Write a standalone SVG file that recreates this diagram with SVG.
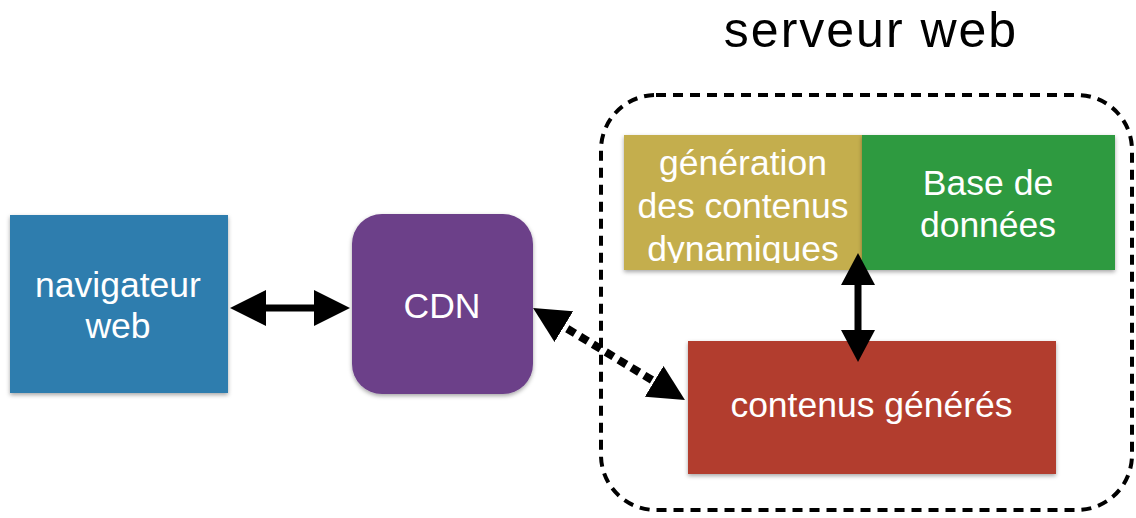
<svg xmlns="http://www.w3.org/2000/svg" width="1136" height="518" viewBox="0 0 1136 518">
<style>
.lbl{font-family:"Liberation Sans",Arial,sans-serif;font-size:35.5px;fill:#fff;text-anchor:middle}
.title{font-family:"Liberation Sans",Arial,sans-serif;font-size:50px;letter-spacing:2px;fill:#000;text-anchor:middle}
.conn{stroke:#000;stroke-width:7;fill:none}
.dash{stroke:#000;stroke-width:8;fill:none;stroke-dasharray:9 6}
</style>
<defs>
<filter id="sh" x="-5%" y="-5%" width="110%" height="115%">
<feDropShadow dx="0" dy="2" stdDeviation="2" flood-color="#000" flood-opacity="0.35"/>
</filter>
<marker id="ah" markerUnits="userSpaceOnUse" markerWidth="36" markerHeight="36" viewBox="0 0 36 36" refX="26" refY="18" orient="auto-start-reverse">
<path d="M0,0 L36,18 L0,36 z" fill="#000"/>
</marker>
<marker id="av" markerUnits="userSpaceOnUse" markerWidth="32" markerHeight="34" viewBox="0 0 32 34" refX="22" refY="17" orient="auto-start-reverse">
<path d="M0,0 L32,17 L0,34 z" fill="#000"/>
</marker>
</defs>
<rect width="1136" height="518" fill="#fff"/>
<g id="serveur">
<rect x="601" y="95" width="531" height="415" rx="55" fill="none" stroke="#000" stroke-width="4" stroke-dasharray="10 7"/>
<text class="title" x="871" y="47">serveur web</text>
</g>
<g id="navigateur">
<rect x="10" y="215" width="218" height="178" fill="#2E7DAE" filter="url(#sh)"/>
<text class="lbl" x="118" y="297">navigateur</text>
<text class="lbl" x="118" y="338">web</text>
</g>
<g id="cdn">
<rect x="352" y="214" width="181" height="180" rx="30" fill="#6C4189" filter="url(#sh)"/>
<text class="lbl" x="442" y="318">CDN</text>
</g>
<g id="generation">
<rect x="624" y="135" width="238" height="135" fill="#C4AE4E" filter="url(#sh)"/>
<svg x="624" y="135" width="238" height="128" overflow="hidden">
<text class="lbl" x="119" y="40">génération</text>
<text class="lbl" x="119" y="83">des contenus</text>
<text class="lbl" x="119" y="126">dynamiques</text>
</svg>
</g>
<g id="base">
<rect x="862" y="135" width="253" height="135" fill="#2E9A40" filter="url(#sh)"/>
<text class="lbl" x="988" y="195">Base de</text>
<text class="lbl" x="988" y="237">données</text>
</g>
<g id="contenus">
<rect x="688" y="341" width="368" height="133" fill="#B23E2E" filter="url(#sh)"/>
<text class="lbl" x="871.5" y="417">contenus générés</text>
</g>
<g id="connectors">
<line class="conn" x1="240" y1="308" x2="340" y2="308" marker-start="url(#ah)" marker-end="url(#ah)"/>
<line class="dash" x1="541.6" y1="313.2" x2="676.4" y2="394.8" marker-start="url(#ah)" marker-end="url(#ah)"/>
<line class="conn" x1="858" y1="263" x2="858" y2="352" marker-start="url(#av)" marker-end="url(#av)"/>
</g>
</svg>
